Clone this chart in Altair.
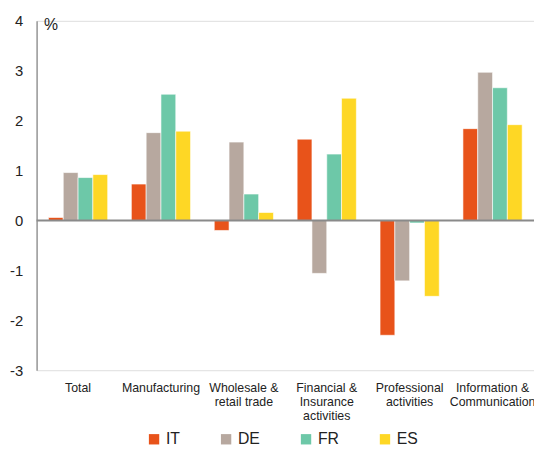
import altair as alt
import pandas as pd

sectors = ["Total", "Manufacturing", "Wholesale &\nretail trade",
           "Financial &\nInsurance\nactivities", "Professional\nactivities",
           "Information &\nCommunication"]
countries = ["IT", "DE", "FR", "ES"]
colors = ["#E8531A", "#B7A89F", "#6DC8A8", "#FED725"]

IT = [0.06, 0.73, -0.20, 1.63, -2.30, 1.84]
DE = [0.96, 1.76, 1.57, -1.06, -1.21, 2.97]
FR = [0.86, 2.53, 0.53, 1.33, -0.05, 2.66]
ES = [0.92, 1.79, 0.16, 2.45, -1.52, 1.92]

rows = []
for c, vals in zip(countries, [IT, DE, FR, ES]):
    for s, v in zip(sectors, vals):
        rows.append({"sector": s, "country": c, "value": v})
df = pd.DataFrame(rows)

FONT = "Liberation Sans"

bars = alt.Chart(df).mark_bar(stroke="white", strokeWidth=0.6).encode(
    x=alt.X("sector:N", sort=sectors,
            scale=alt.Scale(paddingInner=0, paddingOuter=0),
            axis=alt.Axis(title=None, labelAngle=0, domain=False, ticks=False,
                          labelPadding=12, labelFontSize=12.5, labelColor="#222",
                          labelFont=FONT, labelLineHeight=14, labelBaseline="top",
                          labelExpr="split(datum.label, '\\n')", labelLimit=200)),
    xOffset=alt.XOffset("country:N", sort=countries,
                        scale=alt.Scale(paddingInner=0, paddingOuter=0.8)),
    y=alt.Y("value:Q", scale=alt.Scale(domain=[-3, 4], nice=False),
            axis=alt.Axis(title="%", titleAngle=0, titleX=7, titleY=4,
                          titleAlign="left", titleBaseline="middle",
                          titleFontSize=16, titleFontWeight="normal",
                          titleFont=FONT, titleColor="#222",
                          values=[-3, -2, -1, 0, 1, 2, 3, 4],
                          labelExpr="'' + datum.value",
                          grid=False, ticks=False, labelPadding=14,
                          labelFontSize=15, labelFont=FONT, labelColor="#222",
                          domainColor="#999999", domainWidth=1.5)),
    color=alt.Color("country:N", sort=countries,
                    scale=alt.Scale(domain=countries, range=colors),
                    legend=alt.Legend(title=None, orient="none", direction="horizontal",
                                      legendX=111, legendY=416,
                                      symbolType="square", symbolSize=110,
                                      symbolStrokeWidth=0, labelFontSize=16,
                                      labelFont=FONT, labelColor="#222",
                                      columnPadding=38, labelOffset=4)),
)

zero = alt.Chart(pd.DataFrame({"z": [0]})).mark_rule(color="#8a8a8a", strokeWidth=2).encode(
    y="z:Q"
)

chart = alt.layer(bars, zero).properties(
    width=504, height=354,
    autosize=alt.AutoSizeParams(type="none"),
    padding={"left": 29, "top": 10, "right": 0, "bottom": 90},
).configure_view(stroke=None).configure(background="white")

chart.save("out.html", embed_options={"renderer": "svg", "actions": False})
